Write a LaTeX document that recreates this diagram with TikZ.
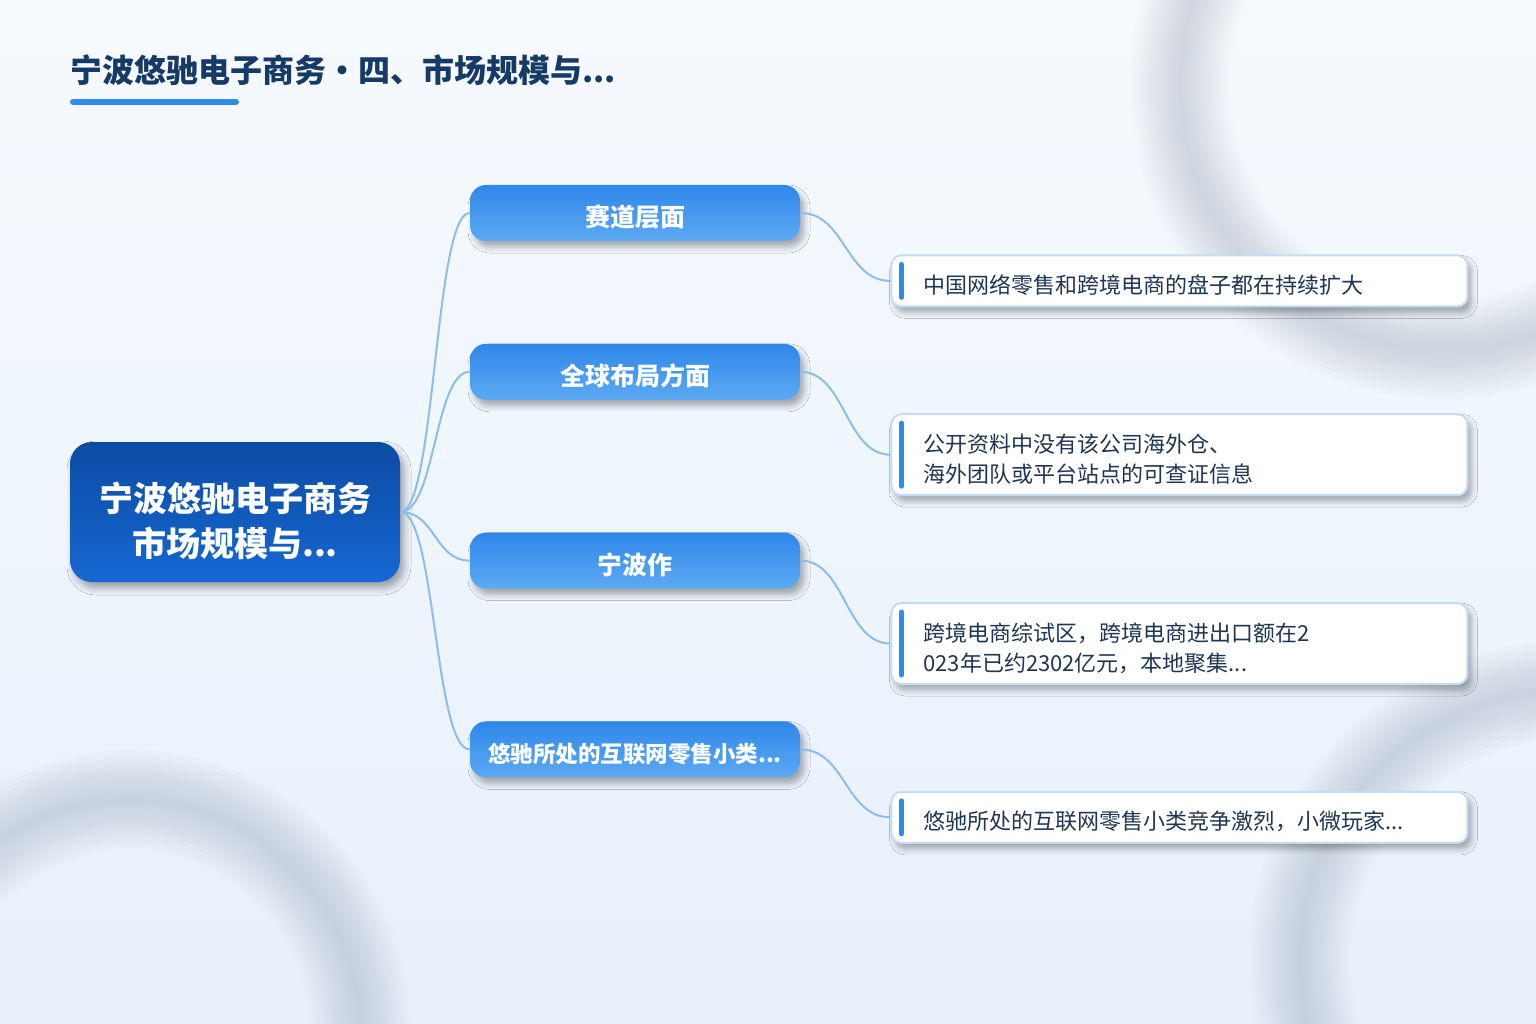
\documentclass[tikz,border=0pt]{standalone}
\usepackage{fontspec}
\setmainfont{Noto Sans CJK SC}
\usetikzlibrary{positioning,shadows.blur}

\definecolor{bgtop}{HTML}{F6FAFE}
\definecolor{bgbot}{HTML}{E7F0FB}
\definecolor{ink}{HTML}{163A66}
\definecolor{accent}{HTML}{2F8CEF}
\definecolor{roottop}{HTML}{0C4CA3}
\definecolor{rootbot}{HTML}{1667D3}
\definecolor{brtop}{HTML}{2F87EA}
\definecolor{brbot}{HTML}{5CAAF3}
\definecolor{leafline}{HTML}{C4DCF4}
\definecolor{leaftext}{HTML}{1F3652}
\definecolor{edgeblue}{HTML}{8EBDE8}
\definecolor{ring}{HTML}{8A96A8}

\begin{document}
\begin{tikzpicture}[
	x = 1pt, y = -1pt, % pixel grid, y pointing down
	thick, % line style
	T/.style={anchor=west, inner sep=0pt, text=ink, font=\fontsize{32}{36}\selectfont\bfseries},
	R/.style={rounded corners=22pt, top color=roottop, bottom color=rootbot, minimum width=330pt, minimum height=140pt, align=center, text=white, font=\fontsize{34}{45}\selectfont\bfseries, text height=88pt, text depth=0pt, blur shadow={shadow xshift=4pt, shadow yshift=-6pt, shadow blur radius=7pt, shadow opacity=35}},
	B/.style={rounded corners=16pt, top color=brtop, bottom color=brbot, minimum width=330pt, minimum height=56pt, inner sep=0pt, text=white, font=\fontsize{25}{28}\selectfont\bfseries, text height=28pt, text depth=0pt, blur shadow={shadow xshift=4pt, shadow yshift=-6pt, shadow blur radius=6pt, shadow opacity=32}},
	L/.style={draw=leafline, line width=2pt, fill=white, rounded corners=10pt, minimum width=576pt, text width=512pt, inner xsep=32pt, inner ysep=13pt, minimum height=51pt, align=left, text=leaftext, font=\fontsize{22}{30}\selectfont, text height=25pt, text depth=0pt, blur shadow={shadow xshift=4pt, shadow yshift=-6pt, shadow blur radius=6pt, shadow opacity=32}},
	L2/.style={L, text depth=30pt},
	E/.style={draw=edgeblue, line width=2pt},
	A/.style={draw=accent, line width=5pt, line cap=round},
	]

	% Background and soft rings
	\useasboundingbox (0,0) rectangle (1536,1024);
	\shade[top color=bgtop, bottom color=bgbot] (0,0) rectangle (1536,1024);
	\foreach \cx/\cy/\r in {1445/85/265, 130/1030/230, 1570/960/270}
		\foreach \w in {100,92,...,4}
			\draw[ring, line width=\w pt, opacity=0.028] (\cx,\cy) circle (\r);

	% Title
	\node[T] (title) at (70,70) {宁波悠驰电子商务・四、市场规模与...};
	\draw[A, line width=6pt] ([xshift=3pt,yshift=-16pt]title.south west) -- +(163,0);

	% Nodes and their relative positions
	\node[R] (root) at (235,512) {宁波悠驰电子商务\\市场规模与...};
	\node[B] (track) at (635,213) {赛道层面};
	\node[B] (global) [below = 102pt of track] {全球布局方面};
	\node[B] (ningbo) [below = 132pt of global] {宁波作};
	\node[B, font=\fontsize{22.5}{26}\selectfont\bfseries, text height=26pt] (niche) [below = 132pt of ningbo] {悠驰所处的互联网零售小类...};

	\node[L] (l1) [below right = 13pt and 90pt of track] {中国网络零售和跨境电商的盘子都在持续扩大};
	\node[L2] (l2) [below right = 13pt and 90pt of global] {公开资料中没有该公司海外仓、\\海外团队或平台站点的可查证信息};
	\node[L2] (l3) [below right = 13pt and 90pt of ningbo] {跨境电商综试区，跨境电商进出口额在2\\023年已约2302亿元，本地聚集...};
	\node[L] (l4) [below right = 13pt and 90pt of niche] {悠驰所处的互联网零售小类竞争激烈，小微玩家...};

	% Accent bars
	\foreach \l in {l1,l2,l3,l4}
		\draw[A] ([xshift=11pt,yshift=-10pt]\l.north west) -- ([xshift=11pt,yshift=10pt]\l.south west);

	% Paths connecting nodes
	\foreach \b in {track,global,ningbo,niche}
		\draw[E] (root.east) .. controls +(35,0) and +(-35,0) .. (\b.west);
	\draw[E] (track.east) .. controls +(45,0) and +(-45,0) .. (l1.west);
	\draw[E] (global.east) .. controls +(45,0) and +(-45,0) .. (l2.west);
	\draw[E] (ningbo.east) .. controls +(45,0) and +(-45,0) .. (l3.west);
	\draw[E] (niche.east) .. controls +(45,0) and +(-45,0) .. (l4.west);

\end{tikzpicture}
\end{document}
